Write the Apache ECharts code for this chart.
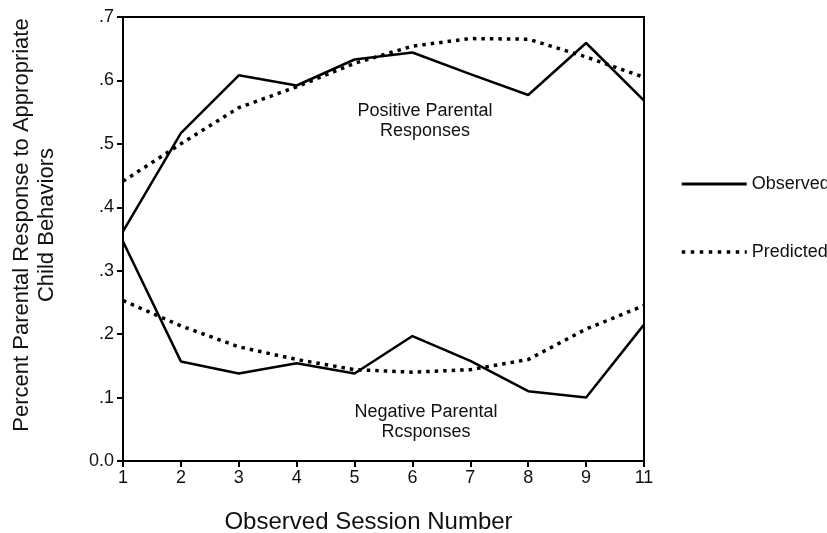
<!DOCTYPE html>
<html><head><meta charset="utf-8">
<script src="https://cdn.jsdelivr.net/npm/echarts@6/dist/echarts.min.js"></script>
<style>html,body{margin:0;padding:0;background:#fff}#c{width:827px;height:533px}</style>
</head><body><div id="c"></div>
<script>
const sessions = ['1','2','3','4','5','6','7','8','9','11'];
const posObserved  = [0.362, 0.517, 0.608, 0.592, 0.633, 0.644, 0.610, 0.577, 0.659, 0.568];
const posPredicted = [0.441, 0.500, 0.557, 0.590, 0.627, 0.654, 0.666, 0.665, 0.637, 0.605];
const negObserved  = [0.346, 0.157, 0.138, 0.154, 0.138, 0.197, 0.158, 0.110, 0.100, 0.215];
const negPredicted = [0.253, 0.213, 0.180, 0.160, 0.144, 0.140, 0.144, 0.160, 0.208, 0.245];
const yTicks = ['0.0','.1','.2','.3','.4','.5','.6','.7'];

const FONT = '"Liberation Sans", Arial, sans-serif';
const chart = echarts.init(document.getElementById('c'), null, {renderer:'canvas'});
const solid = {color:'#000', width:2.5, type:'solid'};
const dotted = {color:'#000', width:3.5, type:[3.5,5]};
function line(name, data, ls){
  return {name, type:'line', data, symbol:'none', lineStyle:ls, itemStyle:{color:'#000'}, z: ls===solid?3:2, animation:false};
}
chart.setOption({
  animation:false,
  backgroundColor:'#fff',
  textStyle:{fontFamily:FONT},
  grid:{left:123, right:183, top:17, bottom:72, outerBoundsMode:'none', containLabel:false,
        show:true, borderColor:'#000', borderWidth:2, backgroundColor:'transparent'},
  legend:{
    orient:'vertical', left:675, top:170, itemWidth:65, itemHeight:20, itemGap:50,
    itemStyle:{opacity:0},
    data:[
      {name:'Observed', lineStyle:{color:'#000', width:3, type:'solid'}},
      {name:'Predicted', lineStyle:{color:'#000', width:3.5, type:[3.5,5.5]}}
    ],
    textStyle:{fontFamily:FONT, fontSize:18, color:'#111'}
  },
  xAxis:{
    type:'category', data:sessions, boundaryGap:false,
    axisLine:{lineStyle:{color:'#000', width:2}},
    axisTick:{show:true, alignWithLabel:true, length:6, lineStyle:{color:'#000', width:2}},
    axisLabel:{fontFamily:FONT, fontSize:18, color:'#111', margin:8},
    splitLine:{show:false},
    name:'Observed Session Number', nameLocation:'middle', nameGap:49,
    nameTextStyle:{fontFamily:FONT, fontSize:24, color:'#111', padding:[0,30,0,0]}
  },
  yAxis:{
    type:'value', min:0, max:0.7, interval:0.1,
    axisLine:{show:true, lineStyle:{color:'#000', width:2}},
    axisTick:{show:true, length:6, lineStyle:{color:'#000', width:2}},
    axisLabel:{fontFamily:FONT, fontSize:18, color:'#111', margin:9,
      formatter:(v)=>yTicks[Math.round(v*10)]},
    splitLine:{show:false}
  },
  graphic:[
    {type:'text', x:34, y:225, rotation:Math.PI/2,
     style:{text:'Percent Parental Response to Appropriate\nChild Behaviors', font:'22px '+FONT, fill:'#111', align:'center', verticalAlign:'middle', lineHeight:25}},
    {type:'text', x:425, y:121,
     style:{text:'Positive Parental\nResponses', font:'18px '+FONT, fill:'#111', align:'center', verticalAlign:'middle', lineHeight:20}},
    {type:'text', x:426, y:422,
     style:{text:'Negative Parental\nRcsponses', font:'18px '+FONT, fill:'#111', align:'center', verticalAlign:'middle', lineHeight:20}}
  ],
  series:[
    line('Observed', posObserved, solid),
    line('Predicted', posPredicted, dotted),
    line('Observed', negObserved, solid),
    line('Predicted', negPredicted, dotted)
  ]
});
</script></body></html>
